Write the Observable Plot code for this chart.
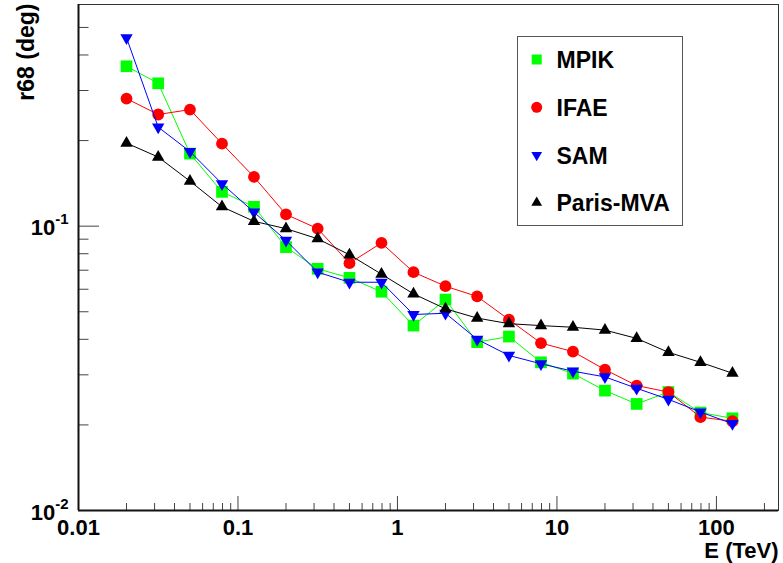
<!DOCTYPE html>
<html><head><meta charset="utf-8">
<script src="https://cdn.jsdelivr.net/npm/d3@7"></script>
<script src="https://cdn.jsdelivr.net/npm/@observablehq/plot@0.6"></script>
<style>
body{margin:0;background:#fff;}
#wrap{position:relative;width:783px;height:563px;font-family:"Liberation Sans",Arial,Helvetica,sans-serif;}
#wrap svg.overlay{position:absolute;left:0;top:0;pointer-events:none;}
</style></head><body><div id="wrap"></div>
<script>
// ---- data ----
const energy = [0.02, 0.0316, 0.05, 0.0794, 0.126, 0.2, 0.316, 0.5, 0.794, 1.26, 2, 3.16, 5, 7.94, 12.6, 20, 31.6, 50, 79.4, 126];
const mpik  = [0.365, 0.318, 0.180, 0.132, 0.117, 0.0844, 0.0708, 0.0658, 0.0588, 0.0447, 0.0552, 0.0391, 0.0409, 0.0332, 0.0303, 0.0264, 0.0237, 0.0261, 0.0221, 0.0211];
const ifae  = [0.281, 0.247, 0.257, 0.195, 0.149, 0.110, 0.098, 0.0741, 0.0873, 0.0689, 0.0615, 0.0566, 0.0469, 0.0388, 0.0362, 0.0313, 0.0275, 0.0261, 0.0213, 0.0206];
const sam   = [0.460, 0.223, 0.183, 0.141, 0.112, 0.0891, 0.0689, 0.0635, 0.0635, 0.0489, 0.0494, 0.0400, 0.0351, 0.0328, 0.0309, 0.0295, 0.0269, 0.0246, 0.0222, 0.0202];
const paris = [0.196, 0.175, 0.144, 0.117, 0.104, 0.098, 0.0903, 0.0793, 0.0678, 0.0578, 0.0512, 0.0475, 0.0454, 0.0447, 0.0441, 0.0431, 0.0403, 0.0360, 0.0332, 0.0304];
const seriesNames = ["MPIK", "IFAE", "SAM", "Paris-MVA"];

const xMajor = [0.01, 0.1, 1, 10, 100];
const xTickLabels = ["0.01", "0.1", "1", "10", "100"];
const xMinor = [0.02,0.03,0.04,0.05,0.06,0.07,0.08,0.09, 0.2,0.3,0.4,0.5,0.6,0.7,0.8,0.9, 2,3,4,5,6,7,8,9, 20,30,40,50,60,70,80,90, 200];
const yMajor = [0.01, 0.1];
const yTickLabels = ["10^-2", "10^-1"];
const yMinor = [0.02,0.03,0.04,0.05,0.06,0.07,0.08,0.09, 0.2,0.3,0.4,0.5];
const xTitle = "E (TeV)";
const yTitle = "r68 (deg)";

// ---- styles ----
const styles = [
  {color: "#00ff00", symbol: "square",   r: 6.6, rotate: 0,   ls: d3.symbolSquare,   lsize: 100},
  {color: "#ff0000", symbol: "circle",   r: 5.9, rotate: 0,   ls: d3.symbolCircle,   lsize: 95},
  {color: "#0000ff", symbol: "triangle", r: 4.6, rotate: 180, ls: d3.symbolTriangle, lsize: 50},
  {color: "#000000", symbol: "triangle", r: 4.6, rotate: 0,   ls: d3.symbolTriangle, lsize: 50}
];
const allValues = [mpik, ifae, sam, paris];
const table = seriesNames.flatMap((name, s) => energy.map((E, i) => ({series: name, E, r68: allValues[s][i]})));

const W = 783, H = 563, ML = 78, MR = 5, MT = 4, MB = 53;
const innerW = W - ML - MR, innerH = H - MT - MB;
const font = {fontSize: 22, fontWeight: "bold"};

const marks = [];
// ticks (inward)
marks.push(Plot.tickX(xMajor, {x: d => d, insetTop: innerH - 14, stroke: "#444"}));
marks.push(Plot.tickX(xMinor, {x: d => d, insetTop: innerH - 7, stroke: "#444"}));
marks.push(Plot.tickY(yMajor, {y: d => d, insetRight: innerW - 21, stroke: "#444"}));
marks.push(Plot.tickY(yMinor, {y: d => d, insetRight: innerW - 10.5, stroke: "#444"}));
// frame
marks.push(Plot.frame({stroke: "#333", strokeWidth: 1}));
marks.push(Plot.ruleX([xMajor[0]], {x: d => d, stroke: "#111", strokeWidth: 2}));
marks.push(Plot.ruleY([yMajor[0]], {y: d => d, stroke: "#111", strokeWidth: 2}));
// series
seriesNames.forEach((name, s) => {
  const st = styles[s];
  const d = table.filter(v => v.series === name);
  marks.push(Plot.line(d, {x: "E", y: "r68", stroke: st.color, strokeWidth: 1}));
  marks.push(Plot.dot(d, {x: "E", y: "r68", fill: st.color, stroke: "none", symbol: st.symbol, r: st.r, rotate: st.rotate}));
});
// tick labels
marks.push(Plot.text(xMajor.map((v, i) => ({v, t: xTickLabels[i]})), {x: "v", text: "t", frameAnchor: "bottom", lineAnchor: "middle", dy: 17, fill: "#000", ...font}));
marks.push(Plot.text(yMajor.map((v, i) => ({v, t: yTickLabels[i]})), {y: "v", text: "t", frameAnchor: "left", textAnchor: "end", lineAnchor: "middle", dx: -10, dy: 2, fill: "#000", ...font}));
// axis titles
marks.push(Plot.text([xTitle], {text: d => d, frameAnchor: "bottom-right", textAnchor: "end", lineAnchor: "middle", dy: 40, fill: "#000", ...font}));
marks.push(Plot.text([yTitle], {text: d => d, frameAnchor: "top-left", textAnchor: "end", lineAnchor: "middle", rotate: -90, dx: -52, dy: -1, fill: "#000", fontSize: 23, fontWeight: "bold"}));

const chart = Plot.plot({
  width: W, height: H,
  marginLeft: ML, marginRight: MR, marginTop: MT, marginBottom: MB,
  style: {fontFamily: "'Liberation Sans', Arial, Helvetica, sans-serif", background: "#fff", overflow: "visible"},
  x: {type: "log", domain: [0.01, 245], axis: null},
  y: {type: "log", domain: [0.01, 0.602], axis: null},
  marks
});
document.getElementById("wrap").appendChild(chart);

// superscripts on y tick labels
d3.select(chart).selectAll("text").each(function() {
  const m = /^10\^(-?\d+)$/.exec(this.textContent);
  if (!m) return;
  this.textContent = "10";
  d3.select(this).append("tspan").attr("dy", -11).attr("font-size", 15).text(m[1]);
});

// legend overlay
const lg = d3.select("#wrap").append("svg").attr("class", "overlay").attr("width", W).attr("height", H);
lg.append("rect").attr("x", 517.5).attr("y", 36.5).attr("width", 165).attr("height", 189)
  .attr("fill", "#fff").attr("stroke", "#555").attr("stroke-width", 1);
const rowsY = [59.5, 107.3, 155, 202.7];
seriesNames.forEach((name, s) => {
  const st = styles[s];
  lg.append("path").attr("d", d3.symbol(st.ls, st.lsize)())
    .attr("transform", `translate(536.7,${rowsY[s]}) rotate(${st.rotate})`).attr("fill", st.color);
  lg.append("text").attr("x", 556.5).attr("y", rowsY[s] + 8.6)
    .attr("font-family", "'Liberation Sans', Arial, sans-serif").attr("font-size", 23).attr("font-weight", "bold")
    .attr("fill", "#000").text(name);
});
</script></body></html>
